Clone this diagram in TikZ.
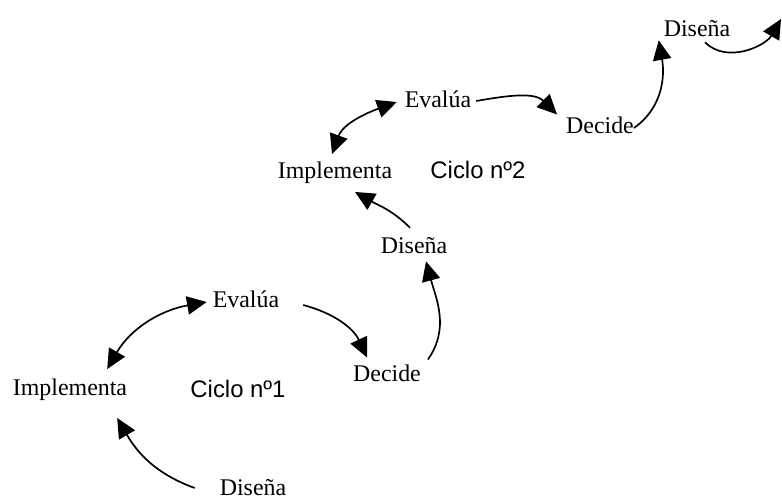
\documentclass[tikz,border=0pt]{standalone}
\usepackage{fontspec}
\setmainfont{Liberation Serif}
\newfontfamily\cyclefont{Liberation Sans}
\usetikzlibrary{arrows.meta}

\begin{document}
\begin{tikzpicture}[x=0.025cm,y=-0.025cm,
    phase/.style={inner sep=2pt,font=\fontsize{17}{20}\selectfont},
    cyclelabel/.style={inner sep=2pt,font=\cyclefont\fontsize{17}{20}\selectfont},
    arr/.style={line width=1.2pt,-{Triangle[length=14pt,width=13pt]}},
    darr/.style={line width=1.2pt,{Triangle[length=14pt,width=13pt]}-{Triangle[length=14pt,width=13pt]}}]
    \useasboundingbox (0,0) rectangle (782,502);

    % First cycle
    \node[phase] (dis1) at (253,488) {Diseña};
    \node[phase] (imp1) at (70,390) {Implementa};
    \node[phase] (eva1) at (246,299) {Evalúa};
    \node[phase] (dec1) at (387,373) {Decide};
    \node[cyclelabel] (cic1) at (238,389) {Ciclo nº1};

    % Second cycle
    \node[phase] (dis2) at (414,246) {Diseña};
    \node[phase] (imp2) at (335,173) {Implementa};
    \node[phase] (eva2) at (438,99) {Evalúa};
    \node[phase] (dec2) at (600,125) {Decide};
    \node[cyclelabel] (cic2) at (478,170) {Ciclo nº2};

    % Start of the next cycle
    \node[phase] (dis3) at (697,29) {Diseña};
    \coordinate (next) at (781,19);

    % Arrows of the first cycle
    \draw[arr] ([shift={(-22,0)}]dis1.west) to[out=160,in=-60] ([shift={(-13,14)}]imp1.south east);
    \draw[darr] ([shift={(-23,-7)}]imp1.north east) to[out=60,in=190] ([shift={(-3,3)}]eva1.west);
    \draw[arr] ([shift={(21,6)}]eva1.east) to[out=-15,in=115] ([shift={(17,-4)}]dec1.north west);
    \draw[arr] ([shift={(4,-2)}]dec1.north east) to[out=55,in=-75] ([shift={(12,4)}]dis2.south);

    % Arrows of the second cycle
    \draw[arr] ([shift={(-4,-7)}]dis2.north) to[out=135,in=-30] ([shift={(20,5)}]imp2.south);
    \draw[darr] ([shift={(-3,-5)}]imp2.north) to[out=70,in=200] ([shift={(-5,3)}]eva2.west);
    \draw[arr] ([shift={(2,2)}]eva2.east) to[out=10,in=135] ([shift={(-6,1)}]dec2.north west);
    \draw[arr] ([shift={(-3,3)}]dec2.east) to[out=35,in=-80] ([shift={(-2,0)}]dis3.south west);
    \draw[arr] ([shift={(8,2)}]dis3.south) to[out=-45,in=240] (next);
\end{tikzpicture}
\end{document}
